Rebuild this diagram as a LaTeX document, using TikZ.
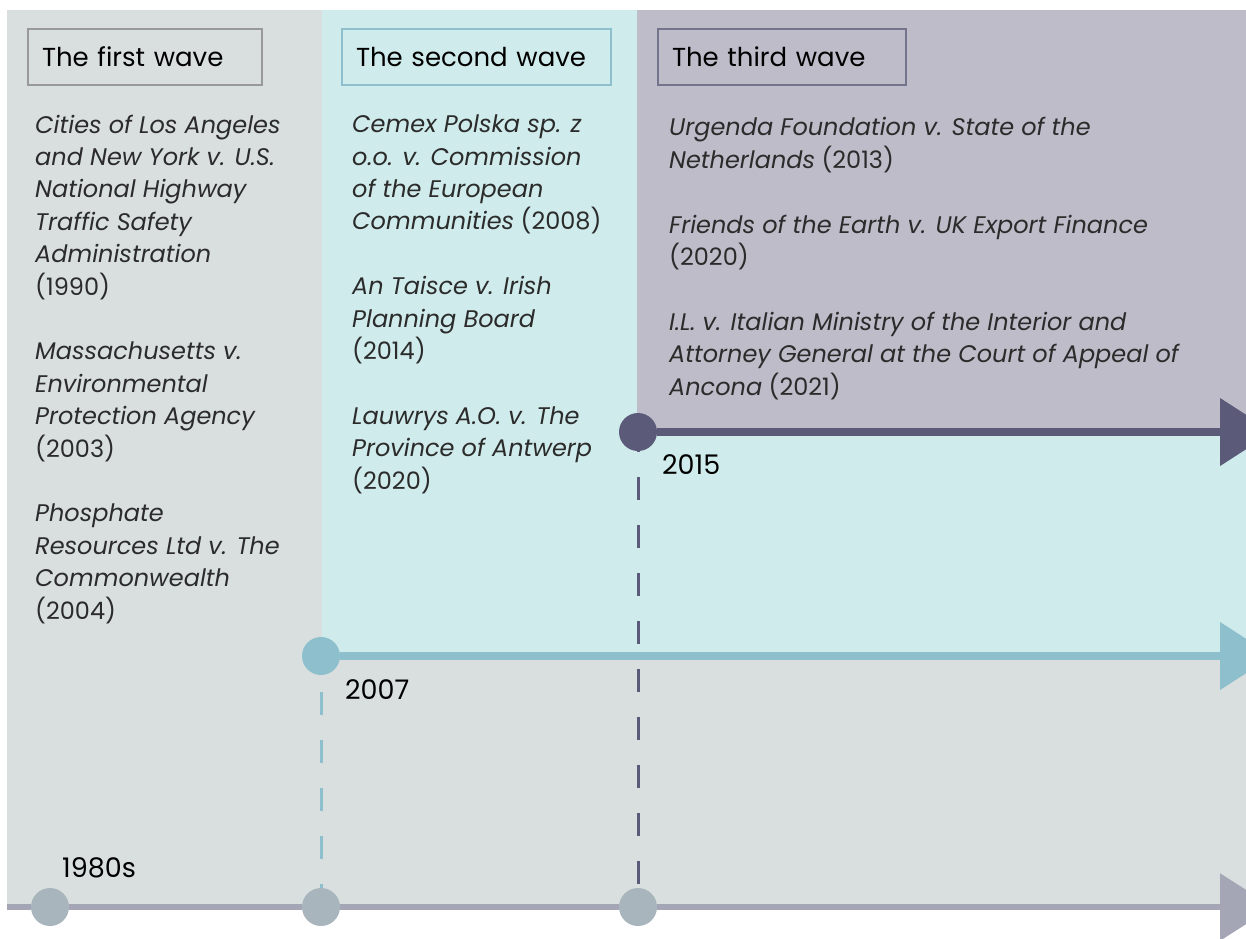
\documentclass[tikz,border=0pt]{standalone}
\usepackage{fontspec}
\setmainfont{Poppins}
\usetikzlibrary{arrows.meta}
\definecolor{panelgray}{HTML}{D9DFDF}
\definecolor{panelteal}{HTML}{D0EBEB}
\definecolor{panelplum}{HTML}{BDBCC8}
\definecolor{lineplum}{HTML}{5B5A78}
\definecolor{lineteal}{HTML}{8DBFCD}
\definecolor{linegray}{HTML}{A4A5B5}
\definecolor{dotgray}{HTML}{A8B5BC}
\definecolor{casetext}{HTML}{2B2B2B}

\begin{document}
\begin{tikzpicture}[x=1pt, y=-1pt,
	wave/.style = {draw, line width=2pt, minimum height=56pt, inner xsep=14pt, align=left, anchor=north west, font=\fontsize{26}{30}\selectfont},
	cases/.style = {anchor=base west, align=left, inner sep=0pt, text=casetext, font=\fontsize{24}{32.4}\selectfont},
	year/.style = {anchor=west, inner sep=0pt, font=\fontsize{27}{30}\selectfont},
	dot/.style = {circle, inner sep=0pt, minimum size=38pt},
	timeline/.style = {line width=8pt, -{Triangle[length=53pt, width=66pt]}},
	dashes/.style = {line width=3pt, dash pattern=on 23pt off 25pt}]
	\useasboundingbox (0,0) rectangle (1246,938);
	\clip (0,0) rectangle (1246,938);

	% background panels
	\fill [panelgray] (7,10) rectangle (1246,908);
	\fill [panelteal] (322,10) rectangle (1246,656);
	\fill [panelplum] (637,10) rectangle (1246,432);

	% wave headers
	\node [wave, draw=black!40, text width=206pt] (first) at (27,28) {The first wave};
	\node [wave, draw=lineteal, text width=241pt] (second) at (341,28) {The second wave};
	\node [wave, draw=lineplum!85, text width=220pt] (third) at (657,28) {The third wave};

	% cases (placed by the baseline of the last line)
	\node [cases] (cases1) at (35,619) {\textit{Cities of Los Angeles}\\ \textit{and New York v. U.S.}\\ \textit{National Highway}\\ \textit{Traffic Safety}\\ \textit{Administration}\\ (1990)\\[32.4pt]
		\textit{Massachusetts v.}\\ \textit{Environmental}\\ \textit{Protection Agency}\\ (2003)\\[32.4pt]
		\textit{Phosphate}\\ \textit{Resources Ltd v. The}\\ \textit{Commonwealth}\\ (2004)};
	\node [cases] (cases2) at (352,489) {\textit{Cemex Polska sp. z}\\ \textit{o.o. v. Commission}\\ \textit{of the European}\\ \textit{Communities} (2008)\\[32.4pt]
		\textit{An Taisce v. Irish}\\ \textit{Planning Board}\\ (2014)\\[32.4pt]
		\textit{Lauwrys A.O. v. The}\\ \textit{Province of Antwerp}\\ (2020)};
	\node [cases] (cases3) at (669,395) {\textit{Urgenda Foundation v. State of the}\\ \textit{Netherlands} (2013)\\[32.4pt]
		\textit{Friends of the Earth v. UK Export Finance}\\ (2020)\\[32.4pt]
		\textit{I.L. v. Italian Ministry of the Interior and}\\ \textit{Attorney General at the Court of Appeal of}\\ \textit{Ancona} (2021)};

	% dots on the timelines
	\node [dot, fill=dotgray] (d80) at (50,907) {};
	\node [dot, fill=dotgray] (d07b) at (321,907) {};
	\node [dot, fill=dotgray] (d15b) at (638,907) {};
	\node [dot, fill=lineteal] (d07) at (321,656) {};
	\node [dot, fill=lineplum] (d15) at (638,432) {};
	\coordinate (start) at (7,907);
	\coordinate (end80) at (1273,907);
	\coordinate (end07) at (1273,656);
	\coordinate (end15) at (1273,432);

	% timelines
	\draw [linegray, line width=6pt] (start) -- (d80);
	\draw [linegray, line width=6pt] (d80) -- (d07b);
	\draw [linegray, line width=6pt] (d07b) -- (d15b);
	\draw [timeline, linegray, line width=6pt] (d15b) -- (end80);
	\draw [timeline, lineteal] (d07) -- (end07);
	\draw [timeline, lineplum] (d15) -- (end15);
	\draw [dashes, dash phase=31pt, lineteal] (d07) -- (d07b);
	\draw [dashes, dash phase=22pt, lineplum] (d15) -- (d15b);

	% years
	\node [year] (y80) at (62,868) {1980s};
	\node [year] (y07) at (345,690) {2007};
	\node [year] (y15) at (662,465) {2015};
\end{tikzpicture}
\end{document}
